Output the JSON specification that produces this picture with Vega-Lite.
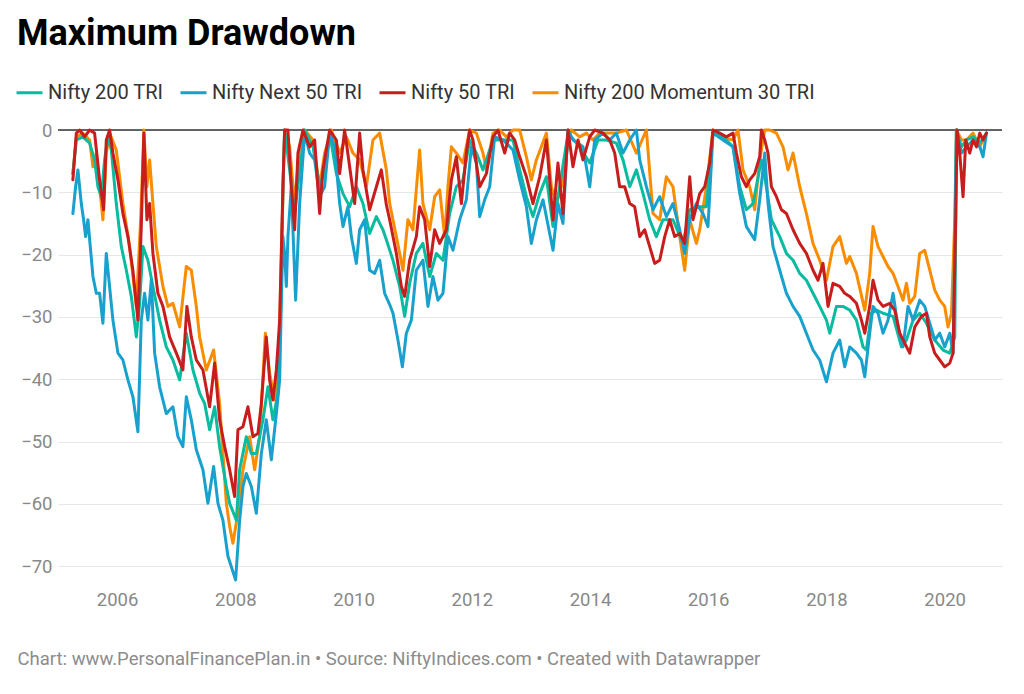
{
  "$schema": "https://vega.github.io/schema/vega-lite/v6.json",
  "width": 944,
  "height": 455,
  "autosize": {"type": "none"},
  "padding": {"left": 58, "top": 130, "right": 22, "bottom": 109},
  "background": "#ffffff",
  "title": {
    "text": "Maximum Drawdown",
    "anchor": "start",
    "frame": "group",
    "dx": -41,
    "dy": -21,
    "fontSize": 36,
    "fontWeight": "bold",
    "color": "#000000",
    "font": "Roboto"
  },
  "layer": [
    {
      "data": {"values": [{"dd": 0}]},
      "mark": {"type": "rule", "color": "#333333", "strokeWidth": 1.3},
      "encoding": {"y": {"field": "dd", "type": "quantitative"}}
    },
    {
      "data": {"values": [
        {"series": "Nifty 200 Momentum 30 TRI", "year": 2005.252, "dd": -7},
        {"series": "Nifty 200 Momentum 30 TRI", "year": 2005.310, "dd": -1.1},
        {"series": "Nifty 200 Momentum 30 TRI", "year": 2005.421, "dd": -0.5},
        {"series": "Nifty 200 Momentum 30 TRI", "year": 2005.535, "dd": -1.6},
        {"series": "Nifty 200 Momentum 30 TRI", "year": 2005.591, "dd": -5.9},
        {"series": "Nifty 200 Momentum 30 TRI", "year": 2005.648, "dd": -3.7},
        {"series": "Nifty 200 Momentum 30 TRI", "year": 2005.704, "dd": -9.1},
        {"series": "Nifty 200 Momentum 30 TRI", "year": 2005.760, "dd": -14.4},
        {"series": "Nifty 200 Momentum 30 TRI", "year": 2005.817, "dd": -3.7},
        {"series": "Nifty 200 Momentum 30 TRI", "year": 2005.873, "dd": -0.5},
        {"series": "Nifty 200 Momentum 30 TRI", "year": 2005.986, "dd": -3.2},
        {"series": "Nifty 200 Momentum 30 TRI", "year": 2006.098, "dd": -11.8},
        {"series": "Nifty 200 Momentum 30 TRI", "year": 2006.212, "dd": -18.7},
        {"series": "Nifty 200 Momentum 30 TRI", "year": 2006.325, "dd": -28.3},
        {"series": "Nifty 200 Momentum 30 TRI", "year": 2006.398, "dd": -14.4},
        {"series": "Nifty 200 Momentum 30 TRI", "year": 2006.453, "dd": 0},
        {"series": "Nifty 200 Momentum 30 TRI", "year": 2006.504, "dd": -9.1},
        {"series": "Nifty 200 Momentum 30 TRI", "year": 2006.550, "dd": -4.8},
        {"series": "Nifty 200 Momentum 30 TRI", "year": 2006.606, "dd": -11.8},
        {"series": "Nifty 200 Momentum 30 TRI", "year": 2006.663, "dd": -18.7},
        {"series": "Nifty 200 Momentum 30 TRI", "year": 2006.775, "dd": -25.1},
        {"series": "Nifty 200 Momentum 30 TRI", "year": 2006.860, "dd": -28.3},
        {"series": "Nifty 200 Momentum 30 TRI", "year": 2006.944, "dd": -27.8},
        {"series": "Nifty 200 Momentum 30 TRI", "year": 2007.058, "dd": -31.6},
        {"series": "Nifty 200 Momentum 30 TRI", "year": 2007.171, "dd": -21.9},
        {"series": "Nifty 200 Momentum 30 TRI", "year": 2007.255, "dd": -22.5},
        {"series": "Nifty 200 Momentum 30 TRI", "year": 2007.340, "dd": -28.3},
        {"series": "Nifty 200 Momentum 30 TRI", "year": 2007.396, "dd": -33.2},
        {"series": "Nifty 200 Momentum 30 TRI", "year": 2007.509, "dd": -38.5},
        {"series": "Nifty 200 Momentum 30 TRI", "year": 2007.633, "dd": -35.3},
        {"series": "Nifty 200 Momentum 30 TRI", "year": 2007.734, "dd": -43.9},
        {"series": "Nifty 200 Momentum 30 TRI", "year": 2007.848, "dd": -59.9},
        {"series": "Nifty 200 Momentum 30 TRI", "year": 2007.904, "dd": -63.6},
        {"series": "Nifty 200 Momentum 30 TRI", "year": 2007.959, "dd": -66.3},
        {"series": "Nifty 200 Momentum 30 TRI", "year": 2008.044, "dd": -61.5},
        {"series": "Nifty 200 Momentum 30 TRI", "year": 2008.129, "dd": -54.5},
        {"series": "Nifty 200 Momentum 30 TRI", "year": 2008.242, "dd": -49.2},
        {"series": "Nifty 200 Momentum 30 TRI", "year": 2008.327, "dd": -54.5},
        {"series": "Nifty 200 Momentum 30 TRI", "year": 2008.411, "dd": -49.2},
        {"series": "Nifty 200 Momentum 30 TRI", "year": 2008.508, "dd": -32.6},
        {"series": "Nifty 200 Momentum 30 TRI", "year": 2008.580, "dd": -39},
        {"series": "Nifty 200 Momentum 30 TRI", "year": 2008.665, "dd": -43.3},
        {"series": "Nifty 200 Momentum 30 TRI", "year": 2008.738, "dd": -35.8},
        {"series": "Nifty 200 Momentum 30 TRI", "year": 2008.795, "dd": -14.4},
        {"series": "Nifty 200 Momentum 30 TRI", "year": 2008.834, "dd": 0},
        {"series": "Nifty 200 Momentum 30 TRI", "year": 2008.919, "dd": -2.7},
        {"series": "Nifty 200 Momentum 30 TRI", "year": 2009.003, "dd": -11.8},
        {"series": "Nifty 200 Momentum 30 TRI", "year": 2009.088, "dd": -2.7},
        {"series": "Nifty 200 Momentum 30 TRI", "year": 2009.173, "dd": 0},
        {"series": "Nifty 200 Momentum 30 TRI", "year": 2009.313, "dd": -1.6},
        {"series": "Nifty 200 Momentum 30 TRI", "year": 2009.426, "dd": -9.1},
        {"series": "Nifty 200 Momentum 30 TRI", "year": 2009.511, "dd": -3.7},
        {"series": "Nifty 200 Momentum 30 TRI", "year": 2009.624, "dd": 0},
        {"series": "Nifty 200 Momentum 30 TRI", "year": 2009.765, "dd": -3.7},
        {"series": "Nifty 200 Momentum 30 TRI", "year": 2009.878, "dd": -1.1},
        {"series": "Nifty 200 Momentum 30 TRI", "year": 2009.990, "dd": -3.7},
        {"series": "Nifty 200 Momentum 30 TRI", "year": 2010.103, "dd": -4.8},
        {"series": "Nifty 200 Momentum 30 TRI", "year": 2010.216, "dd": -9.1},
        {"series": "Nifty 200 Momentum 30 TRI", "year": 2010.328, "dd": -1.6},
        {"series": "Nifty 200 Momentum 30 TRI", "year": 2010.442, "dd": -0.5},
        {"series": "Nifty 200 Momentum 30 TRI", "year": 2010.555, "dd": -6.4},
        {"series": "Nifty 200 Momentum 30 TRI", "year": 2010.611, "dd": -11.8},
        {"series": "Nifty 200 Momentum 30 TRI", "year": 2010.724, "dd": -17.1},
        {"series": "Nifty 200 Momentum 30 TRI", "year": 2010.836, "dd": -22.5},
        {"series": "Nifty 200 Momentum 30 TRI", "year": 2010.920, "dd": -14.4},
        {"series": "Nifty 200 Momentum 30 TRI", "year": 2011.005, "dd": -16},
        {"series": "Nifty 200 Momentum 30 TRI", "year": 2011.118, "dd": -3.2},
        {"series": "Nifty 200 Momentum 30 TRI", "year": 2011.174, "dd": -11.8},
        {"series": "Nifty 200 Momentum 30 TRI", "year": 2011.288, "dd": -16},
        {"series": "Nifty 200 Momentum 30 TRI", "year": 2011.372, "dd": -10.7},
        {"series": "Nifty 200 Momentum 30 TRI", "year": 2011.457, "dd": -9.6},
        {"series": "Nifty 200 Momentum 30 TRI", "year": 2011.541, "dd": -17.1},
        {"series": "Nifty 200 Momentum 30 TRI", "year": 2011.597, "dd": -9.1},
        {"series": "Nifty 200 Momentum 30 TRI", "year": 2011.655, "dd": -2.7},
        {"series": "Nifty 200 Momentum 30 TRI", "year": 2011.739, "dd": -3.7},
        {"series": "Nifty 200 Momentum 30 TRI", "year": 2011.851, "dd": -5.3},
        {"series": "Nifty 200 Momentum 30 TRI", "year": 2011.964, "dd": 0},
        {"series": "Nifty 200 Momentum 30 TRI", "year": 2012.078, "dd": -0.5},
        {"series": "Nifty 200 Momentum 30 TRI", "year": 2012.189, "dd": -3.7},
        {"series": "Nifty 200 Momentum 30 TRI", "year": 2012.247, "dd": -6.4},
        {"series": "Nifty 200 Momentum 30 TRI", "year": 2012.359, "dd": -0.5},
        {"series": "Nifty 200 Momentum 30 TRI", "year": 2012.472, "dd": 0},
        {"series": "Nifty 200 Momentum 30 TRI", "year": 2012.585, "dd": -1.1},
        {"series": "Nifty 200 Momentum 30 TRI", "year": 2012.697, "dd": 0},
        {"series": "Nifty 200 Momentum 30 TRI", "year": 2012.810, "dd": 0},
        {"series": "Nifty 200 Momentum 30 TRI", "year": 2012.924, "dd": -4.3},
        {"series": "Nifty 200 Momentum 30 TRI", "year": 2013.008, "dd": -8},
        {"series": "Nifty 200 Momentum 30 TRI", "year": 2013.093, "dd": -4.8},
        {"series": "Nifty 200 Momentum 30 TRI", "year": 2013.177, "dd": -2.7},
        {"series": "Nifty 200 Momentum 30 TRI", "year": 2013.262, "dd": -0.5},
        {"series": "Nifty 200 Momentum 30 TRI", "year": 2013.347, "dd": -9.1},
        {"series": "Nifty 200 Momentum 30 TRI", "year": 2013.431, "dd": -11.8},
        {"series": "Nifty 200 Momentum 30 TRI", "year": 2013.516, "dd": -9.1},
        {"series": "Nifty 200 Momentum 30 TRI", "year": 2013.600, "dd": -3.7},
        {"series": "Nifty 200 Momentum 30 TRI", "year": 2013.685, "dd": 0},
        {"series": "Nifty 200 Momentum 30 TRI", "year": 2013.826, "dd": -1.1},
        {"series": "Nifty 200 Momentum 30 TRI", "year": 2013.939, "dd": -0.5},
        {"series": "Nifty 200 Momentum 30 TRI", "year": 2014.051, "dd": -1.6},
        {"series": "Nifty 200 Momentum 30 TRI", "year": 2014.164, "dd": -0.5},
        {"series": "Nifty 200 Momentum 30 TRI", "year": 2014.277, "dd": -0.5},
        {"series": "Nifty 200 Momentum 30 TRI", "year": 2014.446, "dd": -0.5},
        {"series": "Nifty 200 Momentum 30 TRI", "year": 2014.616, "dd": 0},
        {"series": "Nifty 200 Momentum 30 TRI", "year": 2014.785, "dd": -3.7},
        {"series": "Nifty 200 Momentum 30 TRI", "year": 2014.954, "dd": 0},
        {"series": "Nifty 200 Momentum 30 TRI", "year": 2015.066, "dd": -13.4},
        {"series": "Nifty 200 Momentum 30 TRI", "year": 2015.179, "dd": -14.4},
        {"series": "Nifty 200 Momentum 30 TRI", "year": 2015.292, "dd": -7.5},
        {"series": "Nifty 200 Momentum 30 TRI", "year": 2015.404, "dd": -9.1},
        {"series": "Nifty 200 Momentum 30 TRI", "year": 2015.518, "dd": -17.1},
        {"series": "Nifty 200 Momentum 30 TRI", "year": 2015.602, "dd": -22.5},
        {"series": "Nifty 200 Momentum 30 TRI", "year": 2015.687, "dd": -14.4},
        {"series": "Nifty 200 Momentum 30 TRI", "year": 2015.800, "dd": -18.2},
        {"series": "Nifty 200 Momentum 30 TRI", "year": 2015.856, "dd": -16},
        {"series": "Nifty 200 Momentum 30 TRI", "year": 2015.969, "dd": -9.1},
        {"series": "Nifty 200 Momentum 30 TRI", "year": 2016.081, "dd": 0},
        {"series": "Nifty 200 Momentum 30 TRI", "year": 2016.194, "dd": -1.1},
        {"series": "Nifty 200 Momentum 30 TRI", "year": 2016.419, "dd": -1.6},
        {"series": "Nifty 200 Momentum 30 TRI", "year": 2016.504, "dd": 0},
        {"series": "Nifty 200 Momentum 30 TRI", "year": 2016.589, "dd": -6.4},
        {"series": "Nifty 200 Momentum 30 TRI", "year": 2016.702, "dd": -9.1},
        {"series": "Nifty 200 Momentum 30 TRI", "year": 2016.786, "dd": -12.8},
        {"series": "Nifty 200 Momentum 30 TRI", "year": 2016.871, "dd": -4.8},
        {"series": "Nifty 200 Momentum 30 TRI", "year": 2016.956, "dd": 0},
        {"series": "Nifty 200 Momentum 30 TRI", "year": 2017.040, "dd": 0},
        {"series": "Nifty 200 Momentum 30 TRI", "year": 2017.154, "dd": -0.5},
        {"series": "Nifty 200 Momentum 30 TRI", "year": 2017.265, "dd": -2.7},
        {"series": "Nifty 200 Momentum 30 TRI", "year": 2017.350, "dd": -6.4},
        {"series": "Nifty 200 Momentum 30 TRI", "year": 2017.435, "dd": -3.7},
        {"series": "Nifty 200 Momentum 30 TRI", "year": 2017.548, "dd": -9.1},
        {"series": "Nifty 200 Momentum 30 TRI", "year": 2017.661, "dd": -13.4},
        {"series": "Nifty 200 Momentum 30 TRI", "year": 2017.773, "dd": -18.2},
        {"series": "Nifty 200 Momentum 30 TRI", "year": 2017.886, "dd": -20.9},
        {"series": "Nifty 200 Momentum 30 TRI", "year": 2018.000, "dd": -24.1},
        {"series": "Nifty 200 Momentum 30 TRI", "year": 2018.111, "dd": -18.7},
        {"series": "Nifty 200 Momentum 30 TRI", "year": 2018.225, "dd": -17.1},
        {"series": "Nifty 200 Momentum 30 TRI", "year": 2018.338, "dd": -21.4},
        {"series": "Nifty 200 Momentum 30 TRI", "year": 2018.394, "dd": -20.3},
        {"series": "Nifty 200 Momentum 30 TRI", "year": 2018.507, "dd": -23},
        {"series": "Nifty 200 Momentum 30 TRI", "year": 2018.648, "dd": -28.9},
        {"series": "Nifty 200 Momentum 30 TRI", "year": 2018.732, "dd": -23},
        {"series": "Nifty 200 Momentum 30 TRI", "year": 2018.788, "dd": -15.5},
        {"series": "Nifty 200 Momentum 30 TRI", "year": 2018.873, "dd": -18.7},
        {"series": "Nifty 200 Momentum 30 TRI", "year": 2018.957, "dd": -20.3},
        {"series": "Nifty 200 Momentum 30 TRI", "year": 2019.042, "dd": -21.9},
        {"series": "Nifty 200 Momentum 30 TRI", "year": 2019.127, "dd": -23},
        {"series": "Nifty 200 Momentum 30 TRI", "year": 2019.211, "dd": -25.1},
        {"series": "Nifty 200 Momentum 30 TRI", "year": 2019.296, "dd": -27.3},
        {"series": "Nifty 200 Momentum 30 TRI", "year": 2019.353, "dd": -24.6},
        {"series": "Nifty 200 Momentum 30 TRI", "year": 2019.409, "dd": -27.8},
        {"series": "Nifty 200 Momentum 30 TRI", "year": 2019.494, "dd": -26.7},
        {"series": "Nifty 200 Momentum 30 TRI", "year": 2019.578, "dd": -19.8},
        {"series": "Nifty 200 Momentum 30 TRI", "year": 2019.663, "dd": -19.3},
        {"series": "Nifty 200 Momentum 30 TRI", "year": 2019.748, "dd": -22.5},
        {"series": "Nifty 200 Momentum 30 TRI", "year": 2019.832, "dd": -25.7},
        {"series": "Nifty 200 Momentum 30 TRI", "year": 2019.917, "dd": -27.3},
        {"series": "Nifty 200 Momentum 30 TRI", "year": 2020.001, "dd": -28.3},
        {"series": "Nifty 200 Momentum 30 TRI", "year": 2020.057, "dd": -31.6},
        {"series": "Nifty 200 Momentum 30 TRI", "year": 2020.115, "dd": -29.4},
        {"series": "Nifty 200 Momentum 30 TRI", "year": 2020.171, "dd": -14.4},
        {"series": "Nifty 200 Momentum 30 TRI", "year": 2020.199, "dd": 0},
        {"series": "Nifty 200 Momentum 30 TRI", "year": 2020.284, "dd": -1.6},
        {"series": "Nifty 200 Momentum 30 TRI", "year": 2020.369, "dd": -1.6},
        {"series": "Nifty 200 Momentum 30 TRI", "year": 2020.480, "dd": -0.5},
        {"series": "Nifty 200 Momentum 30 TRI", "year": 2020.594, "dd": -2.7},
        {"series": "Nifty 200 Momentum 30 TRI", "year": 2020.707, "dd": -0.5},

        {"series": "Nifty 200 TRI", "year": 2005.252, "dd": -7},
        {"series": "Nifty 200 TRI", "year": 2005.310, "dd": -1.6},
        {"series": "Nifty 200 TRI", "year": 2005.421, "dd": -1.1},
        {"series": "Nifty 200 TRI", "year": 2005.535, "dd": -2.1},
        {"series": "Nifty 200 TRI", "year": 2005.619, "dd": -4.8},
        {"series": "Nifty 200 TRI", "year": 2005.675, "dd": -9.1},
        {"series": "Nifty 200 TRI", "year": 2005.733, "dd": -10.7},
        {"series": "Nifty 200 TRI", "year": 2005.788, "dd": -4.8},
        {"series": "Nifty 200 TRI", "year": 2005.844, "dd": -1.1},
        {"series": "Nifty 200 TRI", "year": 2005.902, "dd": -3.2},
        {"series": "Nifty 200 TRI", "year": 2005.986, "dd": -11.8},
        {"series": "Nifty 200 TRI", "year": 2006.071, "dd": -18.7},
        {"series": "Nifty 200 TRI", "year": 2006.156, "dd": -22.5},
        {"series": "Nifty 200 TRI", "year": 2006.240, "dd": -26.7},
        {"series": "Nifty 200 TRI", "year": 2006.325, "dd": -33.2},
        {"series": "Nifty 200 TRI", "year": 2006.381, "dd": -27.8},
        {"series": "Nifty 200 TRI", "year": 2006.437, "dd": -18.7},
        {"series": "Nifty 200 TRI", "year": 2006.521, "dd": -20.9},
        {"series": "Nifty 200 TRI", "year": 2006.606, "dd": -25.1},
        {"series": "Nifty 200 TRI", "year": 2006.719, "dd": -30.5},
        {"series": "Nifty 200 TRI", "year": 2006.832, "dd": -34.8},
        {"series": "Nifty 200 TRI", "year": 2006.944, "dd": -36.9},
        {"series": "Nifty 200 TRI", "year": 2007.058, "dd": -40.1},
        {"series": "Nifty 200 TRI", "year": 2007.171, "dd": -32.6},
        {"series": "Nifty 200 TRI", "year": 2007.283, "dd": -38.5},
        {"series": "Nifty 200 TRI", "year": 2007.396, "dd": -42.2},
        {"series": "Nifty 200 TRI", "year": 2007.481, "dd": -43.9},
        {"series": "Nifty 200 TRI", "year": 2007.565, "dd": -48.1},
        {"series": "Nifty 200 TRI", "year": 2007.650, "dd": -44.4},
        {"series": "Nifty 200 TRI", "year": 2007.734, "dd": -50.8},
        {"series": "Nifty 200 TRI", "year": 2007.848, "dd": -57.2},
        {"series": "Nifty 200 TRI", "year": 2007.904, "dd": -59.9},
        {"series": "Nifty 200 TRI", "year": 2008.017, "dd": -62.6},
        {"series": "Nifty 200 TRI", "year": 2008.073, "dd": -54.5},
        {"series": "Nifty 200 TRI", "year": 2008.186, "dd": -49.2},
        {"series": "Nifty 200 TRI", "year": 2008.271, "dd": -51.9},
        {"series": "Nifty 200 TRI", "year": 2008.355, "dd": -51.9},
        {"series": "Nifty 200 TRI", "year": 2008.467, "dd": -46.5},
        {"series": "Nifty 200 TRI", "year": 2008.552, "dd": -41.2},
        {"series": "Nifty 200 TRI", "year": 2008.636, "dd": -46.5},
        {"series": "Nifty 200 TRI", "year": 2008.721, "dd": -42.2},
        {"series": "Nifty 200 TRI", "year": 2008.778, "dd": -25.1},
        {"series": "Nifty 200 TRI", "year": 2008.805, "dd": -9.1},
        {"series": "Nifty 200 TRI", "year": 2008.834, "dd": 0},
        {"series": "Nifty 200 TRI", "year": 2008.919, "dd": -6.4},
        {"series": "Nifty 200 TRI", "year": 2009.003, "dd": -13.4},
        {"series": "Nifty 200 TRI", "year": 2009.088, "dd": -6.4},
        {"series": "Nifty 200 TRI", "year": 2009.173, "dd": 0},
        {"series": "Nifty 200 TRI", "year": 2009.313, "dd": -2.7},
        {"series": "Nifty 200 TRI", "year": 2009.426, "dd": -9.1},
        {"series": "Nifty 200 TRI", "year": 2009.511, "dd": -6.4},
        {"series": "Nifty 200 TRI", "year": 2009.596, "dd": -0.5},
        {"series": "Nifty 200 TRI", "year": 2009.709, "dd": -7},
        {"series": "Nifty 200 TRI", "year": 2009.821, "dd": -10.2},
        {"series": "Nifty 200 TRI", "year": 2009.934, "dd": -12.3},
        {"series": "Nifty 200 TRI", "year": 2010.047, "dd": -9.1},
        {"series": "Nifty 200 TRI", "year": 2010.159, "dd": -11.8},
        {"series": "Nifty 200 TRI", "year": 2010.272, "dd": -16.6},
        {"series": "Nifty 200 TRI", "year": 2010.386, "dd": -13.9},
        {"series": "Nifty 200 TRI", "year": 2010.497, "dd": -16},
        {"series": "Nifty 200 TRI", "year": 2010.555, "dd": -17.6},
        {"series": "Nifty 200 TRI", "year": 2010.667, "dd": -20.9},
        {"series": "Nifty 200 TRI", "year": 2010.780, "dd": -25.1},
        {"series": "Nifty 200 TRI", "year": 2010.865, "dd": -29.9},
        {"series": "Nifty 200 TRI", "year": 2010.949, "dd": -24.6},
        {"series": "Nifty 200 TRI", "year": 2011.062, "dd": -19.8},
        {"series": "Nifty 200 TRI", "year": 2011.174, "dd": -18.2},
        {"series": "Nifty 200 TRI", "year": 2011.288, "dd": -23.5},
        {"series": "Nifty 200 TRI", "year": 2011.401, "dd": -19.8},
        {"series": "Nifty 200 TRI", "year": 2011.513, "dd": -20.9},
        {"series": "Nifty 200 TRI", "year": 2011.626, "dd": -13.4},
        {"series": "Nifty 200 TRI", "year": 2011.739, "dd": -9.1},
        {"series": "Nifty 200 TRI", "year": 2011.851, "dd": -8},
        {"series": "Nifty 200 TRI", "year": 2011.964, "dd": -1.6},
        {"series": "Nifty 200 TRI", "year": 2012.078, "dd": -3.7},
        {"series": "Nifty 200 TRI", "year": 2012.189, "dd": -6.4},
        {"series": "Nifty 200 TRI", "year": 2012.359, "dd": -1.6},
        {"series": "Nifty 200 TRI", "year": 2012.528, "dd": -1.6},
        {"series": "Nifty 200 TRI", "year": 2012.697, "dd": -1.6},
        {"series": "Nifty 200 TRI", "year": 2012.810, "dd": -6.4},
        {"series": "Nifty 200 TRI", "year": 2012.924, "dd": -10.7},
        {"series": "Nifty 200 TRI", "year": 2013.035, "dd": -13.9},
        {"series": "Nifty 200 TRI", "year": 2013.149, "dd": -10.2},
        {"series": "Nifty 200 TRI", "year": 2013.262, "dd": -7.5},
        {"series": "Nifty 200 TRI", "year": 2013.374, "dd": -15.5},
        {"series": "Nifty 200 TRI", "year": 2013.487, "dd": -9.1},
        {"series": "Nifty 200 TRI", "year": 2013.628, "dd": -0.5},
        {"series": "Nifty 200 TRI", "year": 2013.826, "dd": -2.7},
        {"series": "Nifty 200 TRI", "year": 2013.995, "dd": -5.3},
        {"series": "Nifty 200 TRI", "year": 2014.135, "dd": -1.6},
        {"series": "Nifty 200 TRI", "year": 2014.277, "dd": -1.6},
        {"series": "Nifty 200 TRI", "year": 2014.446, "dd": -2.1},
        {"series": "Nifty 200 TRI", "year": 2014.558, "dd": -4.8},
        {"series": "Nifty 200 TRI", "year": 2014.672, "dd": -9.1},
        {"series": "Nifty 200 TRI", "year": 2014.785, "dd": -6.4},
        {"series": "Nifty 200 TRI", "year": 2014.897, "dd": -10.2},
        {"series": "Nifty 200 TRI", "year": 2015.010, "dd": -14.4},
        {"series": "Nifty 200 TRI", "year": 2015.123, "dd": -17.1},
        {"series": "Nifty 200 TRI", "year": 2015.235, "dd": -14.4},
        {"series": "Nifty 200 TRI", "year": 2015.404, "dd": -14.4},
        {"series": "Nifty 200 TRI", "year": 2015.573, "dd": -18.2},
        {"series": "Nifty 200 TRI", "year": 2015.687, "dd": -12.8},
        {"series": "Nifty 200 TRI", "year": 2015.856, "dd": -12.3},
        {"series": "Nifty 200 TRI", "year": 2015.969, "dd": -12.3},
        {"series": "Nifty 200 TRI", "year": 2016.081, "dd": -0.5},
        {"series": "Nifty 200 TRI", "year": 2016.250, "dd": -1.1},
        {"series": "Nifty 200 TRI", "year": 2016.419, "dd": -2.7},
        {"series": "Nifty 200 TRI", "year": 2016.533, "dd": -9.1},
        {"series": "Nifty 200 TRI", "year": 2016.646, "dd": -12.8},
        {"series": "Nifty 200 TRI", "year": 2016.758, "dd": -11.8},
        {"series": "Nifty 200 TRI", "year": 2016.900, "dd": -4.8},
        {"series": "Nifty 200 TRI", "year": 2016.984, "dd": -9.1},
        {"series": "Nifty 200 TRI", "year": 2017.069, "dd": -14.4},
        {"series": "Nifty 200 TRI", "year": 2017.210, "dd": -17.1},
        {"series": "Nifty 200 TRI", "year": 2017.323, "dd": -19.8},
        {"series": "Nifty 200 TRI", "year": 2017.435, "dd": -20.9},
        {"series": "Nifty 200 TRI", "year": 2017.548, "dd": -23},
        {"series": "Nifty 200 TRI", "year": 2017.661, "dd": -24.1},
        {"series": "Nifty 200 TRI", "year": 2017.773, "dd": -26.2},
        {"series": "Nifty 200 TRI", "year": 2017.886, "dd": -28.3},
        {"series": "Nifty 200 TRI", "year": 2018.000, "dd": -30.5},
        {"series": "Nifty 200 TRI", "year": 2018.056, "dd": -32.6},
        {"series": "Nifty 200 TRI", "year": 2018.169, "dd": -28.3},
        {"series": "Nifty 200 TRI", "year": 2018.281, "dd": -28.3},
        {"series": "Nifty 200 TRI", "year": 2018.394, "dd": -28.9},
        {"series": "Nifty 200 TRI", "year": 2018.507, "dd": -30.5},
        {"series": "Nifty 200 TRI", "year": 2018.619, "dd": -34.8},
        {"series": "Nifty 200 TRI", "year": 2018.676, "dd": -35.3},
        {"series": "Nifty 200 TRI", "year": 2018.761, "dd": -29.4},
        {"series": "Nifty 200 TRI", "year": 2018.846, "dd": -28.9},
        {"series": "Nifty 200 TRI", "year": 2018.957, "dd": -29.4},
        {"series": "Nifty 200 TRI", "year": 2019.127, "dd": -29.9},
        {"series": "Nifty 200 TRI", "year": 2019.269, "dd": -34.8},
        {"series": "Nifty 200 TRI", "year": 2019.353, "dd": -33.7},
        {"series": "Nifty 200 TRI", "year": 2019.465, "dd": -30.5},
        {"series": "Nifty 200 TRI", "year": 2019.578, "dd": -29.4},
        {"series": "Nifty 200 TRI", "year": 2019.692, "dd": -31},
        {"series": "Nifty 200 TRI", "year": 2019.832, "dd": -33.7},
        {"series": "Nifty 200 TRI", "year": 2019.973, "dd": -35.3},
        {"series": "Nifty 200 TRI", "year": 2020.086, "dd": -35.8},
        {"series": "Nifty 200 TRI", "year": 2020.171, "dd": -33.2},
        {"series": "Nifty 200 TRI", "year": 2020.199, "dd": 0},
        {"series": "Nifty 200 TRI", "year": 2020.284, "dd": -2.7},
        {"series": "Nifty 200 TRI", "year": 2020.369, "dd": -1.6},
        {"series": "Nifty 200 TRI", "year": 2020.480, "dd": -1.1},
        {"series": "Nifty 200 TRI", "year": 2020.594, "dd": -2.1},
        {"series": "Nifty 200 TRI", "year": 2020.707, "dd": -0.5},

        {"series": "Nifty Next 50 TRI", "year": 2005.252, "dd": -13.4},
        {"series": "Nifty Next 50 TRI", "year": 2005.298, "dd": -9.1},
        {"series": "Nifty Next 50 TRI", "year": 2005.337, "dd": -6.4},
        {"series": "Nifty Next 50 TRI", "year": 2005.394, "dd": -11.8},
        {"series": "Nifty Next 50 TRI", "year": 2005.433, "dd": -14.4},
        {"series": "Nifty Next 50 TRI", "year": 2005.467, "dd": -17.1},
        {"series": "Nifty Next 50 TRI", "year": 2005.506, "dd": -14.4},
        {"series": "Nifty Next 50 TRI", "year": 2005.591, "dd": -23.5},
        {"series": "Nifty Next 50 TRI", "year": 2005.648, "dd": -26.2},
        {"series": "Nifty Next 50 TRI", "year": 2005.704, "dd": -26.2},
        {"series": "Nifty Next 50 TRI", "year": 2005.760, "dd": -31},
        {"series": "Nifty Next 50 TRI", "year": 2005.817, "dd": -19.8},
        {"series": "Nifty Next 50 TRI", "year": 2005.861, "dd": -24},
        {"series": "Nifty Next 50 TRI", "year": 2005.929, "dd": -30.5},
        {"series": "Nifty Next 50 TRI", "year": 2006.014, "dd": -35.8},
        {"series": "Nifty Next 50 TRI", "year": 2006.098, "dd": -36.9},
        {"series": "Nifty Next 50 TRI", "year": 2006.183, "dd": -40.1},
        {"series": "Nifty Next 50 TRI", "year": 2006.267, "dd": -42.8},
        {"series": "Nifty Next 50 TRI", "year": 2006.352, "dd": -48.4},
        {"series": "Nifty Next 50 TRI", "year": 2006.409, "dd": -30.5},
        {"series": "Nifty Next 50 TRI", "year": 2006.465, "dd": -26.2},
        {"series": "Nifty Next 50 TRI", "year": 2006.521, "dd": -30.5},
        {"series": "Nifty Next 50 TRI", "year": 2006.579, "dd": -24},
        {"series": "Nifty Next 50 TRI", "year": 2006.635, "dd": -35.8},
        {"series": "Nifty Next 50 TRI", "year": 2006.719, "dd": -41.2},
        {"series": "Nifty Next 50 TRI", "year": 2006.832, "dd": -45.5},
        {"series": "Nifty Next 50 TRI", "year": 2006.944, "dd": -44.4},
        {"series": "Nifty Next 50 TRI", "year": 2007.029, "dd": -49.2},
        {"series": "Nifty Next 50 TRI", "year": 2007.113, "dd": -50.8},
        {"series": "Nifty Next 50 TRI", "year": 2007.171, "dd": -42.8},
        {"series": "Nifty Next 50 TRI", "year": 2007.255, "dd": -46.5},
        {"series": "Nifty Next 50 TRI", "year": 2007.340, "dd": -51.3},
        {"series": "Nifty Next 50 TRI", "year": 2007.452, "dd": -54.5},
        {"series": "Nifty Next 50 TRI", "year": 2007.536, "dd": -59.9},
        {"series": "Nifty Next 50 TRI", "year": 2007.633, "dd": -54},
        {"series": "Nifty Next 50 TRI", "year": 2007.706, "dd": -59.9},
        {"series": "Nifty Next 50 TRI", "year": 2007.790, "dd": -62.6},
        {"series": "Nifty Next 50 TRI", "year": 2007.875, "dd": -68.4},
        {"series": "Nifty Next 50 TRI", "year": 2008.005, "dd": -72.2},
        {"series": "Nifty Next 50 TRI", "year": 2008.073, "dd": -62.6},
        {"series": "Nifty Next 50 TRI", "year": 2008.129, "dd": -57.2},
        {"series": "Nifty Next 50 TRI", "year": 2008.186, "dd": -55.1},
        {"series": "Nifty Next 50 TRI", "year": 2008.271, "dd": -57.2},
        {"series": "Nifty Next 50 TRI", "year": 2008.355, "dd": -61.5},
        {"series": "Nifty Next 50 TRI", "year": 2008.440, "dd": -51.9},
        {"series": "Nifty Next 50 TRI", "year": 2008.524, "dd": -46.5},
        {"series": "Nifty Next 50 TRI", "year": 2008.609, "dd": -52.9},
        {"series": "Nifty Next 50 TRI", "year": 2008.694, "dd": -45.5},
        {"series": "Nifty Next 50 TRI", "year": 2008.750, "dd": -40.1},
        {"series": "Nifty Next 50 TRI", "year": 2008.778, "dd": -27.8},
        {"series": "Nifty Next 50 TRI", "year": 2008.805, "dd": -17.1},
        {"series": "Nifty Next 50 TRI", "year": 2008.834, "dd": -19.8},
        {"series": "Nifty Next 50 TRI", "year": 2008.863, "dd": -25.1},
        {"series": "Nifty Next 50 TRI", "year": 2008.890, "dd": -17.1},
        {"series": "Nifty Next 50 TRI", "year": 2008.947, "dd": -9.1},
        {"series": "Nifty Next 50 TRI", "year": 2009.020, "dd": -27.3},
        {"series": "Nifty Next 50 TRI", "year": 2009.088, "dd": -11.8},
        {"series": "Nifty Next 50 TRI", "year": 2009.173, "dd": -0.5},
        {"series": "Nifty Next 50 TRI", "year": 2009.257, "dd": -3.7},
        {"series": "Nifty Next 50 TRI", "year": 2009.342, "dd": -4.8},
        {"series": "Nifty Next 50 TRI", "year": 2009.426, "dd": -10.7},
        {"series": "Nifty Next 50 TRI", "year": 2009.511, "dd": -9.1},
        {"series": "Nifty Next 50 TRI", "year": 2009.596, "dd": -0.5},
        {"series": "Nifty Next 50 TRI", "year": 2009.680, "dd": -2.7},
        {"series": "Nifty Next 50 TRI", "year": 2009.765, "dd": -11.8},
        {"series": "Nifty Next 50 TRI", "year": 2009.821, "dd": -15.5},
        {"series": "Nifty Next 50 TRI", "year": 2009.905, "dd": -12.3},
        {"series": "Nifty Next 50 TRI", "year": 2009.963, "dd": -17.1},
        {"series": "Nifty Next 50 TRI", "year": 2010.047, "dd": -21.4},
        {"series": "Nifty Next 50 TRI", "year": 2010.103, "dd": -16},
        {"series": "Nifty Next 50 TRI", "year": 2010.188, "dd": -14.4},
        {"series": "Nifty Next 50 TRI", "year": 2010.272, "dd": -22.5},
        {"series": "Nifty Next 50 TRI", "year": 2010.357, "dd": -23},
        {"series": "Nifty Next 50 TRI", "year": 2010.442, "dd": -20.9},
        {"series": "Nifty Next 50 TRI", "year": 2010.526, "dd": -26.2},
        {"series": "Nifty Next 50 TRI", "year": 2010.611, "dd": -28},
        {"series": "Nifty Next 50 TRI", "year": 2010.667, "dd": -29.4},
        {"series": "Nifty Next 50 TRI", "year": 2010.751, "dd": -33.7},
        {"series": "Nifty Next 50 TRI", "year": 2010.826, "dd": -38},
        {"series": "Nifty Next 50 TRI", "year": 2010.893, "dd": -32.6},
        {"series": "Nifty Next 50 TRI", "year": 2010.978, "dd": -30.5},
        {"series": "Nifty Next 50 TRI", "year": 2011.062, "dd": -22.5},
        {"series": "Nifty Next 50 TRI", "year": 2011.174, "dd": -20.9},
        {"series": "Nifty Next 50 TRI", "year": 2011.259, "dd": -28.3},
        {"series": "Nifty Next 50 TRI", "year": 2011.343, "dd": -23.5},
        {"series": "Nifty Next 50 TRI", "year": 2011.428, "dd": -27.3},
        {"series": "Nifty Next 50 TRI", "year": 2011.513, "dd": -26.2},
        {"series": "Nifty Next 50 TRI", "year": 2011.597, "dd": -17.1},
        {"series": "Nifty Next 50 TRI", "year": 2011.682, "dd": -19.3},
        {"series": "Nifty Next 50 TRI", "year": 2011.795, "dd": -14.4},
        {"series": "Nifty Next 50 TRI", "year": 2011.908, "dd": -11.2},
        {"series": "Nifty Next 50 TRI", "year": 2011.993, "dd": -2.7},
        {"series": "Nifty Next 50 TRI", "year": 2012.078, "dd": -5.3},
        {"series": "Nifty Next 50 TRI", "year": 2012.134, "dd": -13.9},
        {"series": "Nifty Next 50 TRI", "year": 2012.218, "dd": -11.2},
        {"series": "Nifty Next 50 TRI", "year": 2012.303, "dd": -9.1},
        {"series": "Nifty Next 50 TRI", "year": 2012.387, "dd": -1.1},
        {"series": "Nifty Next 50 TRI", "year": 2012.528, "dd": -1.6},
        {"series": "Nifty Next 50 TRI", "year": 2012.697, "dd": -3.2},
        {"series": "Nifty Next 50 TRI", "year": 2012.810, "dd": -8},
        {"series": "Nifty Next 50 TRI", "year": 2012.924, "dd": -12.3},
        {"series": "Nifty Next 50 TRI", "year": 2013.008, "dd": -18.2},
        {"series": "Nifty Next 50 TRI", "year": 2013.093, "dd": -14.4},
        {"series": "Nifty Next 50 TRI", "year": 2013.205, "dd": -11.2},
        {"series": "Nifty Next 50 TRI", "year": 2013.374, "dd": -19.3},
        {"series": "Nifty Next 50 TRI", "year": 2013.458, "dd": -11.8},
        {"series": "Nifty Next 50 TRI", "year": 2013.543, "dd": -15},
        {"series": "Nifty Next 50 TRI", "year": 2013.628, "dd": 0},
        {"series": "Nifty Next 50 TRI", "year": 2013.712, "dd": -1.6},
        {"series": "Nifty Next 50 TRI", "year": 2013.881, "dd": -2.7},
        {"series": "Nifty Next 50 TRI", "year": 2013.995, "dd": -9.1},
        {"series": "Nifty Next 50 TRI", "year": 2014.079, "dd": -1.6},
        {"series": "Nifty Next 50 TRI", "year": 2014.220, "dd": -0.5},
        {"series": "Nifty Next 50 TRI", "year": 2014.333, "dd": -1.6},
        {"series": "Nifty Next 50 TRI", "year": 2014.446, "dd": -0.5},
        {"series": "Nifty Next 50 TRI", "year": 2014.558, "dd": -3.7},
        {"series": "Nifty Next 50 TRI", "year": 2014.672, "dd": -1.6},
        {"series": "Nifty Next 50 TRI", "year": 2014.785, "dd": 0},
        {"series": "Nifty Next 50 TRI", "year": 2014.841, "dd": -4.8},
        {"series": "Nifty Next 50 TRI", "year": 2014.954, "dd": -9.1},
        {"series": "Nifty Next 50 TRI", "year": 2015.066, "dd": -12.8},
        {"series": "Nifty Next 50 TRI", "year": 2015.179, "dd": -10.7},
        {"series": "Nifty Next 50 TRI", "year": 2015.292, "dd": -13.9},
        {"series": "Nifty Next 50 TRI", "year": 2015.404, "dd": -11.8},
        {"series": "Nifty Next 50 TRI", "year": 2015.518, "dd": -16},
        {"series": "Nifty Next 50 TRI", "year": 2015.602, "dd": -19.8},
        {"series": "Nifty Next 50 TRI", "year": 2015.687, "dd": -14.4},
        {"series": "Nifty Next 50 TRI", "year": 2015.800, "dd": -11.8},
        {"series": "Nifty Next 50 TRI", "year": 2015.912, "dd": -13.4},
        {"series": "Nifty Next 50 TRI", "year": 2015.996, "dd": -15.5},
        {"series": "Nifty Next 50 TRI", "year": 2016.081, "dd": -0.5},
        {"series": "Nifty Next 50 TRI", "year": 2016.250, "dd": -1.6},
        {"series": "Nifty Next 50 TRI", "year": 2016.419, "dd": -2.7},
        {"series": "Nifty Next 50 TRI", "year": 2016.533, "dd": -10.2},
        {"series": "Nifty Next 50 TRI", "year": 2016.646, "dd": -15.5},
        {"series": "Nifty Next 50 TRI", "year": 2016.786, "dd": -17.6},
        {"series": "Nifty Next 50 TRI", "year": 2016.871, "dd": -11.2},
        {"series": "Nifty Next 50 TRI", "year": 2016.956, "dd": -3.7},
        {"series": "Nifty Next 50 TRI", "year": 2017.012, "dd": -11.8},
        {"series": "Nifty Next 50 TRI", "year": 2017.096, "dd": -18.7},
        {"series": "Nifty Next 50 TRI", "year": 2017.210, "dd": -22.5},
        {"series": "Nifty Next 50 TRI", "year": 2017.323, "dd": -26.2},
        {"series": "Nifty Next 50 TRI", "year": 2017.435, "dd": -28.3},
        {"series": "Nifty Next 50 TRI", "year": 2017.548, "dd": -29.9},
        {"series": "Nifty Next 50 TRI", "year": 2017.661, "dd": -32.6},
        {"series": "Nifty Next 50 TRI", "year": 2017.773, "dd": -35.3},
        {"series": "Nifty Next 50 TRI", "year": 2017.886, "dd": -36.9},
        {"series": "Nifty Next 50 TRI", "year": 2018.000, "dd": -40.4},
        {"series": "Nifty Next 50 TRI", "year": 2018.111, "dd": -35.8},
        {"series": "Nifty Next 50 TRI", "year": 2018.225, "dd": -33.7},
        {"series": "Nifty Next 50 TRI", "year": 2018.309, "dd": -38},
        {"series": "Nifty Next 50 TRI", "year": 2018.394, "dd": -34.8},
        {"series": "Nifty Next 50 TRI", "year": 2018.507, "dd": -35.8},
        {"series": "Nifty Next 50 TRI", "year": 2018.592, "dd": -36.9},
        {"series": "Nifty Next 50 TRI", "year": 2018.648, "dd": -39.6},
        {"series": "Nifty Next 50 TRI", "year": 2018.732, "dd": -32.6},
        {"series": "Nifty Next 50 TRI", "year": 2018.788, "dd": -28.3},
        {"series": "Nifty Next 50 TRI", "year": 2018.873, "dd": -29.4},
        {"series": "Nifty Next 50 TRI", "year": 2018.957, "dd": -32.6},
        {"series": "Nifty Next 50 TRI", "year": 2019.042, "dd": -30.5},
        {"series": "Nifty Next 50 TRI", "year": 2019.127, "dd": -26.2},
        {"series": "Nifty Next 50 TRI", "year": 2019.211, "dd": -31.6},
        {"series": "Nifty Next 50 TRI", "year": 2019.296, "dd": -34.8},
        {"series": "Nifty Next 50 TRI", "year": 2019.380, "dd": -28.3},
        {"series": "Nifty Next 50 TRI", "year": 2019.465, "dd": -30.5},
        {"series": "Nifty Next 50 TRI", "year": 2019.578, "dd": -27.3},
        {"series": "Nifty Next 50 TRI", "year": 2019.663, "dd": -28.3},
        {"series": "Nifty Next 50 TRI", "year": 2019.748, "dd": -31},
        {"series": "Nifty Next 50 TRI", "year": 2019.832, "dd": -33.7},
        {"series": "Nifty Next 50 TRI", "year": 2019.917, "dd": -32.6},
        {"series": "Nifty Next 50 TRI", "year": 2020.001, "dd": -34.8},
        {"series": "Nifty Next 50 TRI", "year": 2020.086, "dd": -32.6},
        {"series": "Nifty Next 50 TRI", "year": 2020.142, "dd": -35.8},
        {"series": "Nifty Next 50 TRI", "year": 2020.199, "dd": 0},
        {"series": "Nifty Next 50 TRI", "year": 2020.284, "dd": -3.7},
        {"series": "Nifty Next 50 TRI", "year": 2020.369, "dd": -2.7},
        {"series": "Nifty Next 50 TRI", "year": 2020.480, "dd": -1.6},
        {"series": "Nifty Next 50 TRI", "year": 2020.594, "dd": -2.7},
        {"series": "Nifty Next 50 TRI", "year": 2020.649, "dd": -4.3},
        {"series": "Nifty Next 50 TRI", "year": 2020.707, "dd": -0.5},

        {"series": "Nifty 50 TRI", "year": 2005.252, "dd": -8},
        {"series": "Nifty 50 TRI", "year": 2005.310, "dd": -0.5},
        {"series": "Nifty 50 TRI", "year": 2005.365, "dd": 0},
        {"series": "Nifty 50 TRI", "year": 2005.450, "dd": -1.1},
        {"series": "Nifty 50 TRI", "year": 2005.535, "dd": 0},
        {"series": "Nifty 50 TRI", "year": 2005.619, "dd": -0.5},
        {"series": "Nifty 50 TRI", "year": 2005.704, "dd": -8},
        {"series": "Nifty 50 TRI", "year": 2005.772, "dd": -12.8},
        {"series": "Nifty 50 TRI", "year": 2005.817, "dd": -1.6},
        {"series": "Nifty 50 TRI", "year": 2005.873, "dd": 0},
        {"series": "Nifty 50 TRI", "year": 2005.929, "dd": -3.7},
        {"series": "Nifty 50 TRI", "year": 2006.014, "dd": -8},
        {"series": "Nifty 50 TRI", "year": 2006.098, "dd": -13.4},
        {"series": "Nifty 50 TRI", "year": 2006.183, "dd": -17.1},
        {"series": "Nifty 50 TRI", "year": 2006.267, "dd": -22.5},
        {"series": "Nifty 50 TRI", "year": 2006.352, "dd": -30.5},
        {"series": "Nifty 50 TRI", "year": 2006.409, "dd": -15.5},
        {"series": "Nifty 50 TRI", "year": 2006.453, "dd": -0.5},
        {"series": "Nifty 50 TRI", "year": 2006.504, "dd": -14.4},
        {"series": "Nifty 50 TRI", "year": 2006.550, "dd": -11.8},
        {"series": "Nifty 50 TRI", "year": 2006.606, "dd": -19.8},
        {"series": "Nifty 50 TRI", "year": 2006.690, "dd": -26.2},
        {"series": "Nifty 50 TRI", "year": 2006.775, "dd": -28.3},
        {"series": "Nifty 50 TRI", "year": 2006.888, "dd": -33.2},
        {"series": "Nifty 50 TRI", "year": 2007.002, "dd": -35.8},
        {"series": "Nifty 50 TRI", "year": 2007.113, "dd": -38.5},
        {"series": "Nifty 50 TRI", "year": 2007.181, "dd": -28.3},
        {"series": "Nifty 50 TRI", "year": 2007.255, "dd": -33.2},
        {"series": "Nifty 50 TRI", "year": 2007.340, "dd": -36.9},
        {"series": "Nifty 50 TRI", "year": 2007.452, "dd": -38.5},
        {"series": "Nifty 50 TRI", "year": 2007.565, "dd": -44.4},
        {"series": "Nifty 50 TRI", "year": 2007.650, "dd": -37.4},
        {"series": "Nifty 50 TRI", "year": 2007.734, "dd": -46.5},
        {"series": "Nifty 50 TRI", "year": 2007.819, "dd": -50.8},
        {"series": "Nifty 50 TRI", "year": 2007.904, "dd": -54.5},
        {"series": "Nifty 50 TRI", "year": 2007.988, "dd": -58.8},
        {"series": "Nifty 50 TRI", "year": 2008.044, "dd": -48.1},
        {"series": "Nifty 50 TRI", "year": 2008.129, "dd": -47.6},
        {"series": "Nifty 50 TRI", "year": 2008.213, "dd": -44.4},
        {"series": "Nifty 50 TRI", "year": 2008.298, "dd": -49.2},
        {"series": "Nifty 50 TRI", "year": 2008.382, "dd": -48.7},
        {"series": "Nifty 50 TRI", "year": 2008.440, "dd": -43.9},
        {"series": "Nifty 50 TRI", "year": 2008.524, "dd": -33.2},
        {"series": "Nifty 50 TRI", "year": 2008.580, "dd": -40.1},
        {"series": "Nifty 50 TRI", "year": 2008.636, "dd": -43.3},
        {"series": "Nifty 50 TRI", "year": 2008.694, "dd": -38.5},
        {"series": "Nifty 50 TRI", "year": 2008.750, "dd": -30.5},
        {"series": "Nifty 50 TRI", "year": 2008.805, "dd": -9.1},
        {"series": "Nifty 50 TRI", "year": 2008.834, "dd": 0},
        {"series": "Nifty 50 TRI", "year": 2008.890, "dd": 0},
        {"series": "Nifty 50 TRI", "year": 2008.947, "dd": -9.1},
        {"series": "Nifty 50 TRI", "year": 2009.003, "dd": -16},
        {"series": "Nifty 50 TRI", "year": 2009.059, "dd": -3.7},
        {"series": "Nifty 50 TRI", "year": 2009.144, "dd": 0},
        {"series": "Nifty 50 TRI", "year": 2009.257, "dd": -2.7},
        {"series": "Nifty 50 TRI", "year": 2009.342, "dd": -1.6},
        {"series": "Nifty 50 TRI", "year": 2009.426, "dd": -13.4},
        {"series": "Nifty 50 TRI", "year": 2009.482, "dd": -6.4},
        {"series": "Nifty 50 TRI", "year": 2009.596, "dd": 0},
        {"series": "Nifty 50 TRI", "year": 2009.709, "dd": -1.6},
        {"series": "Nifty 50 TRI", "year": 2009.765, "dd": -7},
        {"series": "Nifty 50 TRI", "year": 2009.849, "dd": 0},
        {"series": "Nifty 50 TRI", "year": 2009.934, "dd": -5.9},
        {"series": "Nifty 50 TRI", "year": 2010.019, "dd": -11.8},
        {"series": "Nifty 50 TRI", "year": 2010.103, "dd": -0.5},
        {"series": "Nifty 50 TRI", "year": 2010.159, "dd": -6.4},
        {"series": "Nifty 50 TRI", "year": 2010.272, "dd": -12.8},
        {"series": "Nifty 50 TRI", "year": 2010.386, "dd": -9.1},
        {"series": "Nifty 50 TRI", "year": 2010.470, "dd": -6.4},
        {"series": "Nifty 50 TRI", "year": 2010.555, "dd": -12},
        {"series": "Nifty 50 TRI", "year": 2010.611, "dd": -14.4},
        {"series": "Nifty 50 TRI", "year": 2010.724, "dd": -19.8},
        {"series": "Nifty 50 TRI", "year": 2010.809, "dd": -25.1},
        {"series": "Nifty 50 TRI", "year": 2010.865, "dd": -26.7},
        {"series": "Nifty 50 TRI", "year": 2010.949, "dd": -20.9},
        {"series": "Nifty 50 TRI", "year": 2011.062, "dd": -17.1},
        {"series": "Nifty 50 TRI", "year": 2011.118, "dd": -12.3},
        {"series": "Nifty 50 TRI", "year": 2011.203, "dd": -14.4},
        {"series": "Nifty 50 TRI", "year": 2011.288, "dd": -21.9},
        {"series": "Nifty 50 TRI", "year": 2011.372, "dd": -16},
        {"series": "Nifty 50 TRI", "year": 2011.457, "dd": -18.2},
        {"series": "Nifty 50 TRI", "year": 2011.570, "dd": -16},
        {"series": "Nifty 50 TRI", "year": 2011.655, "dd": -8},
        {"series": "Nifty 50 TRI", "year": 2011.739, "dd": -4.3},
        {"series": "Nifty 50 TRI", "year": 2011.824, "dd": -11.8},
        {"series": "Nifty 50 TRI", "year": 2011.908, "dd": -3.7},
        {"series": "Nifty 50 TRI", "year": 2011.964, "dd": 0},
        {"series": "Nifty 50 TRI", "year": 2012.020, "dd": -1.6},
        {"series": "Nifty 50 TRI", "year": 2012.134, "dd": -9.1},
        {"series": "Nifty 50 TRI", "year": 2012.247, "dd": -7},
        {"series": "Nifty 50 TRI", "year": 2012.359, "dd": -1.1},
        {"series": "Nifty 50 TRI", "year": 2012.443, "dd": 0},
        {"series": "Nifty 50 TRI", "year": 2012.557, "dd": -3.7},
        {"series": "Nifty 50 TRI", "year": 2012.641, "dd": -0.5},
        {"series": "Nifty 50 TRI", "year": 2012.726, "dd": -1.6},
        {"series": "Nifty 50 TRI", "year": 2012.810, "dd": -4.3},
        {"series": "Nifty 50 TRI", "year": 2012.924, "dd": -7.5},
        {"series": "Nifty 50 TRI", "year": 2013.035, "dd": -11.8},
        {"series": "Nifty 50 TRI", "year": 2013.149, "dd": -7.5},
        {"series": "Nifty 50 TRI", "year": 2013.262, "dd": -1.6},
        {"series": "Nifty 50 TRI", "year": 2013.374, "dd": -14.4},
        {"series": "Nifty 50 TRI", "year": 2013.458, "dd": -5.3},
        {"series": "Nifty 50 TRI", "year": 2013.543, "dd": -13.4},
        {"series": "Nifty 50 TRI", "year": 2013.628, "dd": 0},
        {"series": "Nifty 50 TRI", "year": 2013.712, "dd": -5.9},
        {"series": "Nifty 50 TRI", "year": 2013.797, "dd": -1.6},
        {"series": "Nifty 50 TRI", "year": 2013.881, "dd": -4.8},
        {"series": "Nifty 50 TRI", "year": 2013.995, "dd": -1.1},
        {"series": "Nifty 50 TRI", "year": 2014.079, "dd": 0},
        {"series": "Nifty 50 TRI", "year": 2014.220, "dd": -0.5},
        {"series": "Nifty 50 TRI", "year": 2014.333, "dd": -1.6},
        {"series": "Nifty 50 TRI", "year": 2014.418, "dd": -3.7},
        {"series": "Nifty 50 TRI", "year": 2014.502, "dd": -9.1},
        {"series": "Nifty 50 TRI", "year": 2014.587, "dd": -9.1},
        {"series": "Nifty 50 TRI", "year": 2014.672, "dd": -11.8},
        {"series": "Nifty 50 TRI", "year": 2014.756, "dd": -12.3},
        {"series": "Nifty 50 TRI", "year": 2014.841, "dd": -17.1},
        {"series": "Nifty 50 TRI", "year": 2014.925, "dd": -16},
        {"series": "Nifty 50 TRI", "year": 2015.010, "dd": -18.7},
        {"series": "Nifty 50 TRI", "year": 2015.094, "dd": -21.4},
        {"series": "Nifty 50 TRI", "year": 2015.179, "dd": -20.9},
        {"series": "Nifty 50 TRI", "year": 2015.264, "dd": -17.1},
        {"series": "Nifty 50 TRI", "year": 2015.348, "dd": -14.4},
        {"series": "Nifty 50 TRI", "year": 2015.433, "dd": -17.1},
        {"series": "Nifty 50 TRI", "year": 2015.518, "dd": -16.6},
        {"series": "Nifty 50 TRI", "year": 2015.602, "dd": -18.2},
        {"series": "Nifty 50 TRI", "year": 2015.687, "dd": -7.5},
        {"series": "Nifty 50 TRI", "year": 2015.743, "dd": -14.4},
        {"series": "Nifty 50 TRI", "year": 2015.856, "dd": -10.2},
        {"series": "Nifty 50 TRI", "year": 2015.941, "dd": -9.1},
        {"series": "Nifty 50 TRI", "year": 2016.025, "dd": -5.3},
        {"series": "Nifty 50 TRI", "year": 2016.081, "dd": 0},
        {"series": "Nifty 50 TRI", "year": 2016.194, "dd": -0.5},
        {"series": "Nifty 50 TRI", "year": 2016.308, "dd": -1.1},
        {"series": "Nifty 50 TRI", "year": 2016.419, "dd": -0.5},
        {"series": "Nifty 50 TRI", "year": 2016.477, "dd": -3.7},
        {"series": "Nifty 50 TRI", "year": 2016.561, "dd": -7.5},
        {"series": "Nifty 50 TRI", "year": 2016.646, "dd": -9.1},
        {"series": "Nifty 50 TRI", "year": 2016.702, "dd": -8},
        {"series": "Nifty 50 TRI", "year": 2016.786, "dd": -7},
        {"series": "Nifty 50 TRI", "year": 2016.871, "dd": -4.3},
        {"series": "Nifty 50 TRI", "year": 2016.900, "dd": 0},
        {"series": "Nifty 50 TRI", "year": 2016.956, "dd": -1.6},
        {"series": "Nifty 50 TRI", "year": 2017.012, "dd": -3.7},
        {"series": "Nifty 50 TRI", "year": 2017.069, "dd": -9.1},
        {"series": "Nifty 50 TRI", "year": 2017.154, "dd": -10.7},
        {"series": "Nifty 50 TRI", "year": 2017.238, "dd": -12.8},
        {"series": "Nifty 50 TRI", "year": 2017.323, "dd": -13.4},
        {"series": "Nifty 50 TRI", "year": 2017.435, "dd": -16},
        {"series": "Nifty 50 TRI", "year": 2017.548, "dd": -18.2},
        {"series": "Nifty 50 TRI", "year": 2017.661, "dd": -19.8},
        {"series": "Nifty 50 TRI", "year": 2017.773, "dd": -22.5},
        {"series": "Nifty 50 TRI", "year": 2017.858, "dd": -24.1},
        {"series": "Nifty 50 TRI", "year": 2017.942, "dd": -21.4},
        {"series": "Nifty 50 TRI", "year": 2018.027, "dd": -28.3},
        {"series": "Nifty 50 TRI", "year": 2018.111, "dd": -24.6},
        {"series": "Nifty 50 TRI", "year": 2018.225, "dd": -25.1},
        {"series": "Nifty 50 TRI", "year": 2018.309, "dd": -26.2},
        {"series": "Nifty 50 TRI", "year": 2018.394, "dd": -26.7},
        {"series": "Nifty 50 TRI", "year": 2018.507, "dd": -27.8},
        {"series": "Nifty 50 TRI", "year": 2018.592, "dd": -30.5},
        {"series": "Nifty 50 TRI", "year": 2018.648, "dd": -32.6},
        {"series": "Nifty 50 TRI", "year": 2018.732, "dd": -28.3},
        {"series": "Nifty 50 TRI", "year": 2018.788, "dd": -24.1},
        {"series": "Nifty 50 TRI", "year": 2018.873, "dd": -27.3},
        {"series": "Nifty 50 TRI", "year": 2018.957, "dd": -28.3},
        {"series": "Nifty 50 TRI", "year": 2019.071, "dd": -27.8},
        {"series": "Nifty 50 TRI", "year": 2019.155, "dd": -28.9},
        {"series": "Nifty 50 TRI", "year": 2019.240, "dd": -32.6},
        {"series": "Nifty 50 TRI", "year": 2019.324, "dd": -34.2},
        {"series": "Nifty 50 TRI", "year": 2019.409, "dd": -35.8},
        {"series": "Nifty 50 TRI", "year": 2019.494, "dd": -31.6},
        {"series": "Nifty 50 TRI", "year": 2019.607, "dd": -29.9},
        {"series": "Nifty 50 TRI", "year": 2019.692, "dd": -29.4},
        {"series": "Nifty 50 TRI", "year": 2019.748, "dd": -33.2},
        {"series": "Nifty 50 TRI", "year": 2019.832, "dd": -35.8},
        {"series": "Nifty 50 TRI", "year": 2019.917, "dd": -36.9},
        {"series": "Nifty 50 TRI", "year": 2020.001, "dd": -38},
        {"series": "Nifty 50 TRI", "year": 2020.086, "dd": -37.4},
        {"series": "Nifty 50 TRI", "year": 2020.142, "dd": -35.8},
        {"series": "Nifty 50 TRI", "year": 2020.187, "dd": -14.4},
        {"series": "Nifty 50 TRI", "year": 2020.210, "dd": 0},
        {"series": "Nifty 50 TRI", "year": 2020.255, "dd": -3.7},
        {"series": "Nifty 50 TRI", "year": 2020.311, "dd": -10.7},
        {"series": "Nifty 50 TRI", "year": 2020.357, "dd": -1.6},
        {"series": "Nifty 50 TRI", "year": 2020.424, "dd": -3.7},
        {"series": "Nifty 50 TRI", "year": 2020.480, "dd": -1.6},
        {"series": "Nifty 50 TRI", "year": 2020.538, "dd": -2.7},
        {"series": "Nifty 50 TRI", "year": 2020.594, "dd": -0.5},
        {"series": "Nifty 50 TRI", "year": 2020.649, "dd": -1.6},
        {"series": "Nifty 50 TRI", "year": 2020.707, "dd": -0.5}
      ]},
      "mark": {"type": "line", "strokeWidth": 3, "strokeJoin": "round", "strokeCap": "round"},
      "encoding": {
        "x": {
          "field": "year",
          "type": "quantitative",
          "scale": {"domain": [2005, 2020.97], "nice": false, "zero": false},
          "axis": {
            "values": [2006, 2008, 2010, 2012, 2014, 2016, 2018, 2020],
            "format": "d",
            "grid": false,
            "domain": false,
            "ticks": false,
            "tickSize": 0,
            "labelPadding": 5,
            "labelFontSize": 18.5,
            "labelColor": "#888888",
            "labelFont": "Roboto",
            "title": "Chart: www.PersonalFinancePlan.in • Source: NiftyIndices.com • Created with Datawrapper",
            "titleFont": "Roboto",
            "titleFontSize": 18.5,
            "titleFontWeight": "normal",
            "titleColor": "#8c8c8c",
            "titleAnchor": "start",
            "titleAlign": "left",
            "titleBaseline": "middle",
            "titleX": -41,
            "titleY": 73
          }
        },
        "y": {
          "field": "dd",
          "type": "quantitative",
          "scale": {"domain": [-73, 0], "nice": false, "zero": false},
          "axis": {
            "values": [0, -10, -20, -30, -40, -50, -60, -70],
            "grid": true,
            "gridColor": "#e6e6e6",
            "gridWidth": 1,
            "domain": false,
            "ticks": false,
            "tickSize": 0,
            "labelPadding": 6,
            "labelFontSize": 18.5,
            "labelColor": "#888888",
            "labelFont": "Roboto",
            "title": null
          }
        },
        "color": {
          "field": "series",
          "type": "nominal",
          "scale": {
            "domain": ["Nifty 200 TRI", "Nifty Next 50 TRI", "Nifty 50 TRI", "Nifty 200 Momentum 30 TRI"],
            "range": ["#09bb9f", "#18a1cd", "#c71e1d", "#fa8c00"]
          },
          "legend": {
            "title": null,
            "orient": "none",
            "direction": "horizontal",
            "legendX": -43,
            "legendY": -52,
            "symbolType": "stroke",
            "symbolSize": 676,
            "symbolStrokeWidth": 3,
            "labelFont": "Roboto",
            "labelFontSize": 20,
            "labelColor": "#333333",
            "labelOffset": 4,
            "columnPadding": 10,
            "labelLimit": 400
          }
        }
      }
    }
  ],
  "config": {
    "view": {"stroke": null},
    "font": "Roboto"
  }
}
